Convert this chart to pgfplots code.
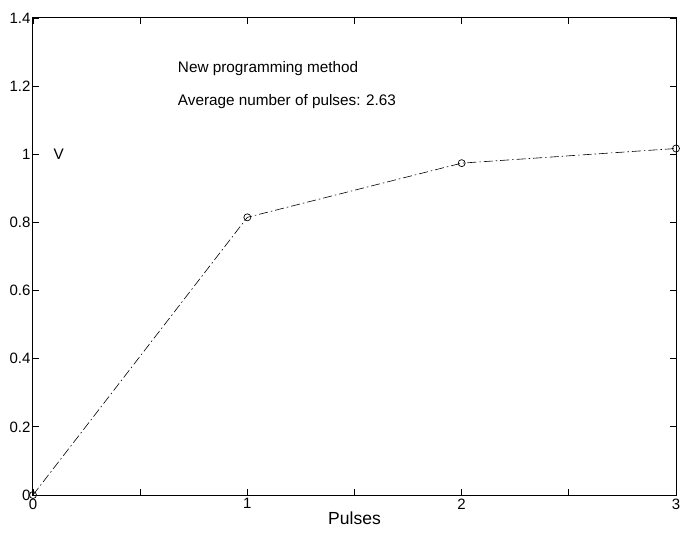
\documentclass[border=0pt]{standalone}
\usepackage{pgfplots}
\pgfplotsset{compat=1.18}
\usepackage{fontspec}
\setmainfont{Liberation Sans}

\begin{document}
\begin{tikzpicture}
\begin{axis}[
    name=ax,
    scale only axis,
    width=643pt, height=477pt,
    xmin=0, xmax=3, ymin=0, ymax=1.4,
    xtick={0,0.5,1,1.5,2,2.5,3},
    xticklabels={0,,1,,2,,3},
    ytick={0,0.2,0.4,0.6,0.8,1,1.2,1.4},
    yticklabels={0,0.2,0.4,0.6,0.8,1,1.2,1.4},
    tick align=inside,
    major tick length=6pt,
    axis line style={line width=1pt},
    tick style={line width=0.8pt, black},
    xtick pos=both, ytick pos=both,
    tick label style={font=\fontsize{15}{17}\selectfont},
    xticklabel style={yshift=0pt},
    yticklabel style={xshift=1pt},
    /pgf/number format/assume math mode=true,
    xlabel={Pulses},
    xlabel style={font=\fontsize{17.5}{19}\selectfont, yshift=4pt},
]
\addplot[black, line width=0.6pt, dash pattern=on 9pt off 3pt on 1.5pt off 3pt,
    mark=o, mark size=3.5pt, mark options={solid, line width=0.7pt}]
    coordinates {(0,0) (1,0.815) (2,0.974) (3,1.017)};
\node[anchor=west, font=\fontsize{15.3}{17}\selectfont] at (axis cs:0.66,1.253) {New programming method};
\node[anchor=west, font=\fontsize{15.3}{17}\selectfont] at (axis cs:0.66,1.155) {Average number of pulses: 2.63};
\node[anchor=west, font=\fontsize{15.3}{17}\selectfont] at (axis cs:0.08,1.0) {V};
\end{axis}
\pgfresetboundingbox
\path (ax.south west) ++(-33pt,-41pt) rectangle ++(680pt,536pt);
\end{tikzpicture}
\end{document}
